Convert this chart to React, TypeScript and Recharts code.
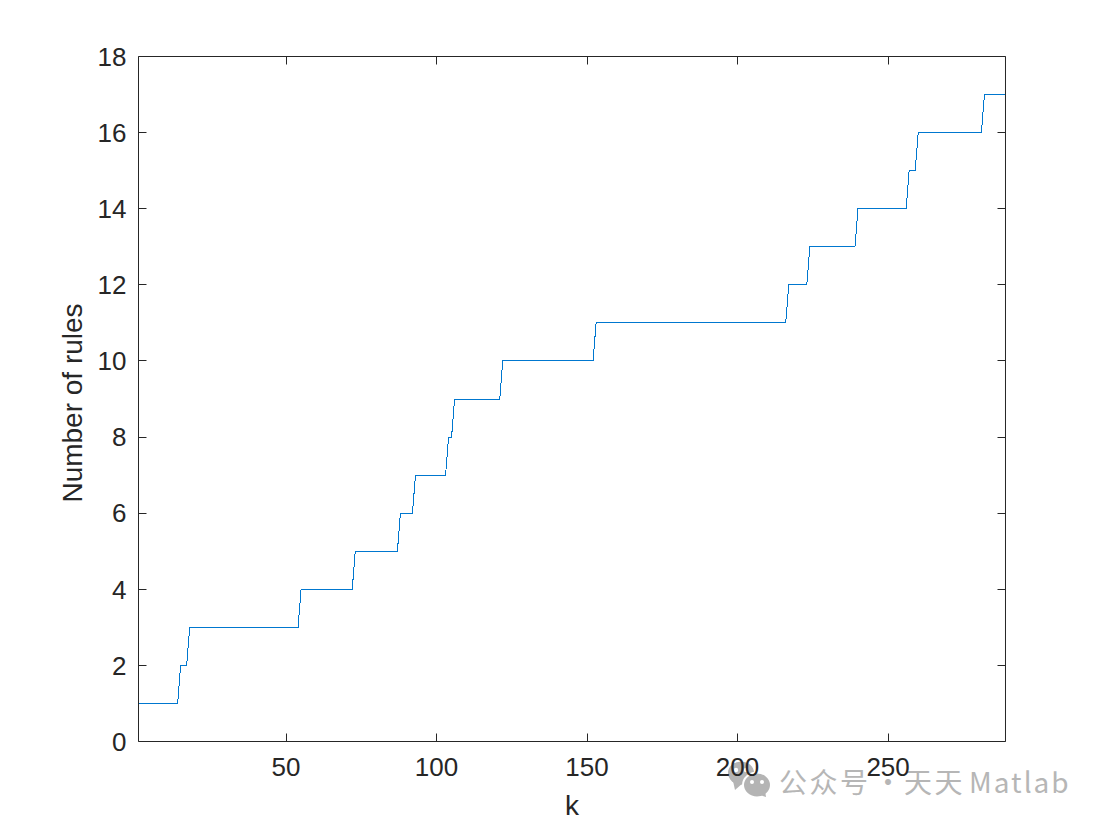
import React from 'react';
import { LineChart, Line, XAxis, YAxis } from 'recharts';

// breakpoints of the rule count curve
const kValues = [1, 14, 15, 17, 18, 54, 55, 72, 73, 87, 88, 92, 93, 103, 104, 105, 106, 121, 122, 152, 153, 216, 217, 223, 224, 239, 240, 256, 257, 259, 260, 281, 282, 289];
const ruleCounts = [1, 1, 2, 2, 3, 3, 4, 4, 5, 5, 6, 6, 7, 7, 8, 8, 9, 9, 10, 10, 11, 11, 12, 12, 13, 13, 14, 14, 15, 15, 16, 16, 17, 17];

const xTicks = [50, 100, 150, 200, 250];
const yTicks = [0, 2, 4, 6, 8, 10, 12, 14, 16, 18];

const data = kValues.map((k, i) => ({ k, rules: ruleCounts[i] }));

const AXIS = '#262626';
const FONT = '"Liberation Sans", Arial, sans-serif';
const THIN = 0.01; // a mirrored axis must keep a non-zero size or it is not drawn
const TICK_LEN = 8;

// inward tick marks, matlab style
const snap = (v: number) => Math.floor(v) + 0.5;

const InwardTick = ({ x, y, dx, dy }: any) => (
  <line
    x1={snap(x)}
    y1={snap(y)}
    x2={snap(x) + dx * TICK_LEN}
    y2={snap(y) + dy * TICK_LEN}
    stroke={AXIS}
    strokeWidth={1}
  />
);

const markStyle: React.CSSProperties = {
  position: 'absolute',
  top: 761,
  fontFamily: '"Noto Sans CJK SC", sans-serif',
  fontSize: 28,
  lineHeight: '40px',
  color: '#b6b6b6',
  whiteSpace: 'nowrap',
  letterSpacing: 2.5,
};

const Watermark = () => (
  <div style={{ position: 'absolute', left: 0, top: 0, width: 1103, height: 825 }}>
    <svg width={1103} height={825} style={{ position: 'absolute', left: 0, top: 0 }}>
      <g fill="#b4b4b4">
        <ellipse cx={741} cy={773} rx={13} ry={11.5} />
        <path d="M733 781 L735 790 L743 783 Z" />
        <ellipse cx={757} cy={785} rx={14} ry={12.5} stroke="#fff" strokeWidth={2} />
        <path d="M760 795 L766 797 L765 790 Z" />
      </g>
      <g fill="#fff">
        <circle cx={736} cy={770} r={2.2} />
        <circle cx={746} cy={770} r={2.2} />
        <circle cx={752} cy={782} r={2} />
        <circle cx={762} cy={782} r={2} />
      </g>
    </svg>
    <div style={{ ...markStyle, left: 779 }}>公众号</div>
    <div style={{ ...markStyle, left: 874 }}>·</div>
    <div style={{ ...markStyle, left: 904 }}>天天</div>
    <div style={{ ...markStyle, left: 969, letterSpacing: 2 }}>Matlab</div>
  </div>
);

const App = () => {
  return (
    <div style={{ position: 'absolute', left: 0, top: 0, width: 1103, height: 825, background: '#fff' }}>
      <Watermark />
      <div style={{ position: 'absolute', left: 0, top: 0 }}>
        <LineChart
          width={1103}
          height={825}
          data={data}
          margin={{ top: 56.5, right: 97.5, bottom: 0, left: 0 }}
        >
          <XAxis
            xAxisId="aBottomTicks"
            dataKey="k"
            type="number"
            domain={[1, 289]}
            ticks={xTicks}
            orientation="bottom"
            height={THIN}
            axisLine={false}
            tickLine={false}
            tickSize={0}
            tickMargin={0}
            tick={(p: any) => <InwardTick {...p} dx={0} dy={-1} />}
          />
          <XAxis
            xAxisId="bottom"
            dataKey="k"
            type="number"
            domain={[1, 289]}
            ticks={xTicks}
            orientation="bottom"
            height={83.5}
            stroke={AXIS}
            tickLine={false}
            tickMargin={10}
            tick={{ fill: AXIS, fontSize: 26, fontFamily: FONT }}
            label={{ value: 'k', position: 'insideBottom', offset: 10, fill: AXIS, fontSize: 28, fontFamily: FONT }}
          />
          <XAxis
            xAxisId="top"
            dataKey="k"
            type="number"
            domain={[1, 289]}
            ticks={xTicks}
            orientation="top"
            height={THIN}
            stroke={AXIS}
            tickLine={false}
            tickSize={0}
            tickMargin={0}
            tick={(p: any) => <InwardTick {...p} dx={0} dy={1} />}
          />
          <YAxis
            yAxisId="aLeftTicks"
            dataKey="rules"
            type="number"
            domain={[0, 18]}
            allowDataOverflow
            ticks={yTicks}
            interval={0}
            width={THIN}
            axisLine={false}
            tickLine={false}
            tickSize={0}
            tickMargin={0}
            tick={(p: any) => <InwardTick {...p} dx={1} dy={0} />}
          />
          <YAxis
            yAxisId="left"
            type="number"
            domain={[0, 18]}
            ticks={yTicks}
            interval={0}
            width={138.5}
            stroke={AXIS}
            tickLine={false}
            tickMargin={6}
            tick={{ fill: AXIS, fontSize: 26, fontFamily: FONT }}
            label={{ value: 'Number of rules', angle: -90, position: 'insideLeft', offset: 72, dy: 4, fill: AXIS, fontSize: 28, fontFamily: FONT, style: { textAnchor: 'middle' } }}
          />
          <YAxis
            yAxisId="right"
            dataKey="rules"
            orientation="right"
            type="number"
            domain={[0, 18]}
            allowDataOverflow
            ticks={yTicks}
            interval={0}
            width={THIN}
            stroke={AXIS}
            tickLine={false}
            tickSize={0}
            tickMargin={0}
            tick={(p: any) => <InwardTick {...p} dx={-1} dy={0} />}
          />
          <Line
            xAxisId="bottom"
            yAxisId="left"
            type="linear"
            dataKey="rules"
            stroke="#0077CF"
            strokeWidth={1}
            shapeRendering="crispEdges"
            dot={false}
            activeDot={false}
            isAnimationActive={false}
          />
        </LineChart>
      </div>
    </div>
  );
};

export default App;
